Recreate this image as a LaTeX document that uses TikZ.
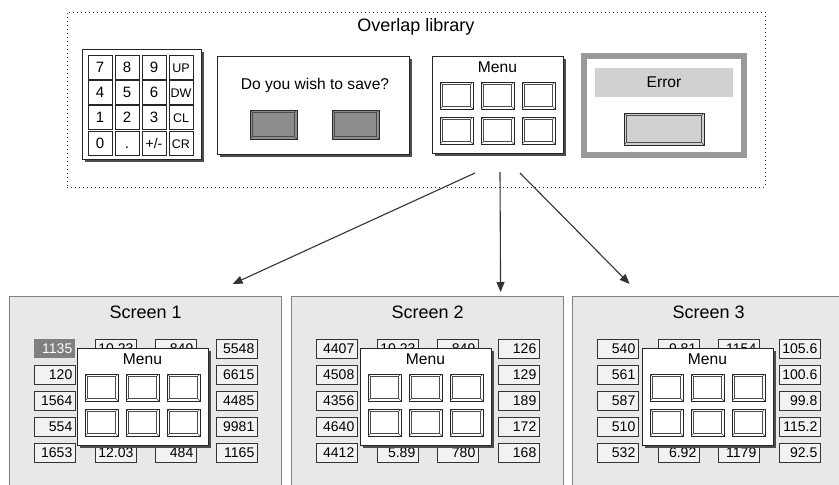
\documentclass[tikz,border=0pt]{standalone}
\usepackage{fontspec}
\setmainfont{Liberation Sans}
\usetikzlibrary{arrows.meta,positioning,calc,shadows}

\tikzset{
  libbox/.style={draw=black!80, line width=.8pt, dash pattern=on 1pt off 3pt, inner sep=0pt},
  dialog/.style={draw=black!85, line width=.8pt, fill=white, inner sep=0pt, outer sep=0pt,
    drop shadow={shadow xshift=3pt, shadow yshift=-3pt, fill=black!70, opacity=1}},
  bevel/.style={draw=black!85, line width=.6pt, inner sep=0pt, outer sep=0pt},
  bevelline/.style={draw=black!70, line width=.5pt},
  key/.style={draw=black!85, line width=.6pt, fill=white, minimum size=24pt, inner sep=0pt,
    text height=10.5pt, text depth=0pt},
  screen/.style={draw=black!50, line width=1.2pt, fill=black!9, minimum width=272pt,
    minimum height=200pt, anchor=north west, inner sep=0pt},
  numbox/.style={draw=black!80, line width=.6pt, fill=black!5, minimum height=19pt,
    text width=35pt, inner xsep=3pt, inner ysep=0pt, align=right, anchor=north west,
    font=\fontsize{14}{16}\selectfont},
  hinum/.style={numbox, draw=none, fill=black!50, text=white},
  flow/.style={-{Triangle[length=10pt,width=8pt]}, line width=1.1pt, draw=black!80},
  title/.style={font=\fontsize{18}{20}\selectfont},
  txt/.style={font=\fontsize{15.6}{18}\selectfont},
}

% button with bevelled edge: name, x, y (top left), width, height, fill
\newcommand{\bevelkey}[6]{%
  \node[bevel, fill=#6, minimum width=#4pt, minimum height=#5pt, anchor=north west] (#1) at ({#2},{#3}) {};
  \draw[bevelline] ([shift={(2.5pt,-2.5pt)}]#1.north west) rectangle ([shift={(-2.5pt,2.5pt)}]#1.south east);
  \draw[bevelline] (#1.north west) -- ++(2.5pt,-2.5pt) (#1.north east) -- ++(-2.5pt,-2.5pt)
    (#1.south west) -- ++(2.5pt,2.5pt) (#1.south east) -- ++(-2.5pt,2.5pt);
}

% menu window: name, x, y (top left)
\newcommand{\menupanel}[3]{%
  \node[dialog, minimum width=131pt, minimum height=97pt, anchor=north west] (#1) at (#2,#3) {};
  \node[txt] (#1-t) at ([yshift=-11pt]#1.north) {Menu};
  \foreach \i/\dx in {1/8,2/49,3/90}
    \foreach \j/\dy in {1/26,2/61}
      \bevelkey{#1-k\i\j}{#2+\dx}{#3+\dy}{33}{27}{white};
}

% screen: number, left x, four columns of row/value
\newcommand{\screenpanel}[6]{%
  \node[screen] (scr#1) at (#2,296) {};
  \node[title] (scr#1-t) at ([yshift=-16pt]scr#1.north) {Screen #1};
  \foreach \r/\val in {#3} \node[numbox] (scr#1-a\r) at ({#2+25},{313+26*\r}) {\val};
  \foreach \r/\val in {#4} \node[numbox] (scr#1-b\r) at ({#2+86},{313+26*\r}) {\val};
  \foreach \r/\val in {#5} \node[numbox] (scr#1-c\r) at ({#2+146},{313+26*\r}) {\val};
  \foreach \r/\val in {#6} \node[numbox] (scr#1-d\r) at ({#2+207},{313+26*\r}) {\val};
}

\begin{document}
\begin{tikzpicture}[x=1pt,y=-1pt]
\clip (0,0) rectangle (839,485);

% overlap library
\node[libbox, minimum width=698pt, minimum height=175pt] (lib) at (416,99.5) {};
\node[title] (lib-t) at (416,27) {Overlap library};

% keypad
\node[dialog, minimum width=119pt, minimum height=110pt] (keypad) at (141.5,104) {};
\foreach \lab/\fsz [count=\n from 0] in {7/15,8/15,9/15,UP/12.5,4/15,5/15,6/15,DW/12.5,1/15,2/15,3/15,CL/12.5,0/15,./15,{+/-}/14,CR/12.5}{
  \pgfmathtruncatemacro{\col}{mod(\n,4)}
  \pgfmathtruncatemacro{\row}{\n/4}
  \node[key, font=\fontsize{\fsz}{\fsz}\selectfont] (k\n) at ({100+27*\col},{67+25.3*\row}) {\lab};
}

% save dialog
\node[dialog, minimum width=192pt, minimum height=98pt] (save) at (313,105) {};
\node[txt] (save-t) at (315,85) {Do you wish to save?};
\bevelkey{save-y}{250}{110}{47}{29}{black!45}
\bevelkey{save-n}{332}{110}{47}{29}{black!45}

% menu
\menupanel{menu}{432}{56}

% error
\node[draw=black!40, line width=6pt, fill=white, minimum width=160pt, minimum height=99pt, inner sep=0pt] (err) at (664,105.5) {};
\node[txt, fill=black!18, minimum width=138pt, minimum height=29pt, inner sep=0pt] (err-t) at (664,82.5) {Error};
\bevelkey{err-b}{624}{113}{80}{32}{black!18}

% screens
\screenpanel{1}{9}{2/120,3/1564,4/554,5/1653}{1/10.23,5/12.03}{1/849,5/484}{1/5548,2/6615,3/4485,4/9981,5/1165}
\node[hinum] (scr1-a1) at (34,339) {1135};
\menupanel{scr1-menu}{77}{348}

\screenpanel{2}{291}{1/4407,2/4508,3/4356,4/4640,5/4412}{1/10.23,5/5.89}{1/849,5/780}{1/126,2/129,3/189,4/172,5/168}
\menupanel{scr2-menu}{360}{348}

\screenpanel{3}{572}{1/540,2/561,3/587,4/510,5/532}{1/9.81,5/6.92}{1/1154,5/1179}{1/105.6,2/100.6,3/99.8,4/115.2,5/92.5}
\menupanel{scr3-menu}{642}{348}

% arrows
\coordinate (a1) at (475,173);
\coordinate (a2) at (500,172);
\coordinate (a3) at (520,173);
\coordinate (e1) at ([xshift=87pt,yshift=12pt]scr1.north);
\coordinate (e2) at ([xshift=73pt,yshift=4pt]scr2.north);
\coordinate (e3) at ([xshift=-79pt,yshift=12pt]scr3.north);
\draw[flow] (a1) -- (e1);
\draw[flow] (a2) -- (e2);
\draw[flow] (a3) -- (e3);
\end{tikzpicture}
\end{document}
